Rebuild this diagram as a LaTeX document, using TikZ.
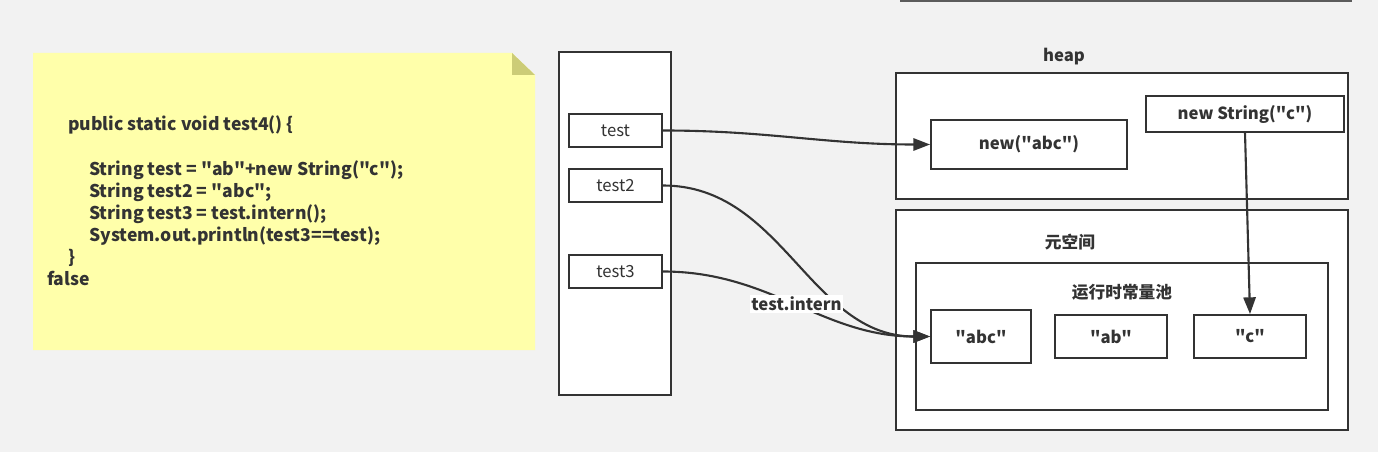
\documentclass[tikz,border=0pt]{standalone}
\usepackage{fontspec}
\setmainfont{Noto Sans CJK SC}[Ligatures=TeXOff]
\usepackage{xcolor}
\usetikzlibrary{arrows.meta}

\definecolor{bg}{HTML}{F2F2F2}
\definecolor{ink}{HTML}{333333}
\definecolor{note}{HTML}{FFFFAA}
\definecolor{fold}{HTML}{CCCC77}

\begin{document}
\begin{tikzpicture}[
  x=0.02cm, y=-0.02cm,
  box/.style={draw=ink, line width=1.1pt, fill=white, inner sep=0pt,
              text=ink, font=\fontsize{9.5}{11}\selectfont},
  var/.style={box, minimum width=1.86cm, minimum height=0.66cm},
  str/.style={box, font=\fontsize{9.5}{11}\selectfont\bfseries},
  title/.style={text=ink, font=\fontsize{9.5}{11}\selectfont\bfseries},
  arr/.style={-{Triangle[length=9.5pt, width=7pt]}, line width=1.2pt, draw=ink}
]

% ── Canvas ──
\useasboundingbox (0,0) rectangle (1378,452);
\fill[bg] (0,0) rectangle (1378,452);
\draw[ink!80, line width=1.1pt] (900,1) -- (1352,1);

% ── Sticky note with the code ──
\fill[note] (33,53) -- (512,53) -- (535,75) -- (535,350) -- (33,350) -- cycle;
\fill[fold] (512,53) -- (535,75) -- (512,75) -- cycle;
\node[anchor=north west, align=left, inner sep=0pt, text=ink,
      font=\fontsize{10}{12.5}\selectfont\bfseries] (code) at (47,115)
     {\hspace*{0.42cm}public static void test4() \{\\[13.5pt]
      \hspace*{0.84cm}String test = "ab"+new String("c");\\
      \hspace*{0.84cm}String test2 = "abc";\\
      \hspace*{0.84cm}String test3 = test.intern();\\
      \hspace*{0.84cm}System.out.println(test3==test);\\
      \hspace*{0.42cm}\}\\
      false};

% ── Stack ──
\node[box, minimum width=2.24cm, minimum height=6.86cm] (stack) at (615,223.5) {};
\node[var] (test)  at (615.5,130.5) {test};
\node[var] (test2) at (615.5,185.5) {test2};
\node[var] (test3) at (615.5,271.5) {test3};

% ── Heap ──
\node[title] (heaplbl) at (1064,57) {heap};
\node[box, minimum width=9.04cm, minimum height=2.52cm] (heap) at (1122,136) {};
\node[str, minimum width=3.92cm, minimum height=0.98cm] (newabc) at (1029,144.5) {new("abc")};
\node[str, minimum width=3.96cm, minimum height=0.72cm] (newc) at (1245,114) {new String("c")};

% ── Metaspace / constant pool ──
\node[box, minimum width=9.04cm, minimum height=4.4cm] (meta) at (1122,320) {};
\node[title] (metalbl) at (1070,242) {元空间};
\node[box, minimum width=8.24cm, minimum height=2.94cm] (pool) at (1122,336.5) {};
\node[title] (poollbl) at (1122,292) {运行时常量池};
\node[str, minimum width=2cm, minimum height=1.06cm] (abc) at (981,336.5) {"abc"};
\node[str, minimum width=2.24cm, minimum height=0.86cm] (ab) at (1111,336.5) {"ab"};
\node[str, minimum width=2.24cm, minimum height=0.86cm] (c) at (1250,336.5) {"c"};

% ── References ──
\draw[arr] (test.east) to[out=0, in=180] (newabc.west);
\draw[arr] (test2.east) to[out=0, in=180] (abc.west);
\draw[arr] (test3.east) to[out=0, in=180]
     node[pos=0.5, fill=white, inner sep=1pt, title] {test.intern} (abc.west);
\draw[arr] (newc.south) -- (c.north);

\end{tikzpicture}
\end{document}
